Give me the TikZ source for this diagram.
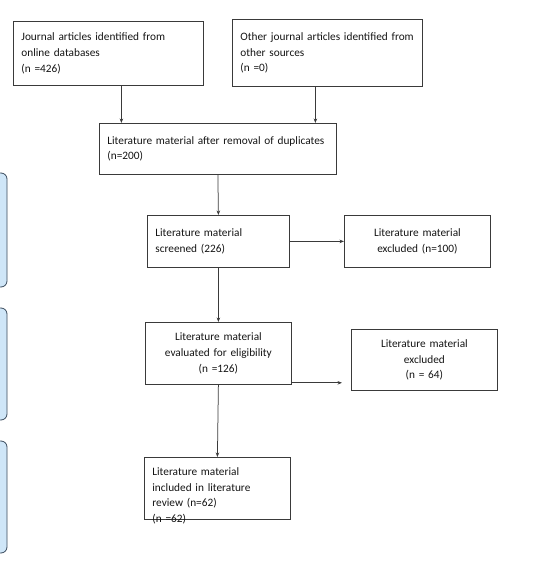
\documentclass[tikz,border=0pt]{standalone}
\usepackage{fontspec}
\setmainfont{Carlito}
\usepackage{xcolor}
\usetikzlibrary{arrows.meta}
\definecolor{boxline}{HTML}{3A3A3A}
\definecolor{txt}{HTML}{141414}
\definecolor{sidefill}{HTML}{CFE6F8}
\definecolor{sideline}{HTML}{3A4A5C}
\tikzset{
  box/.style={draw=boxline, line width=0.8pt, inner xsep=8pt, inner ysep=4pt,
    anchor=north west, text=txt, font=\fontsize{11.3}{15.8}\selectfont},
  arr/.style={draw=boxline, line width=0.75pt, -{Stealth[length=4.5pt,width=3.5pt]}},
  side/.style={draw=sideline, fill=sidefill, line width=0.8pt, rounded corners=6pt}
}

\begin{document}
\begin{tikzpicture}[x=1pt,y=-1pt]
  \useasboundingbox (0,0) rectangle (548,567);
  % Draw side panels (cut off at the left edge)
  \foreach \top/\bot in {173/287, 308/420, 441/553} {
    \draw[side] (-30,\top) rectangle (7,\bot);
  }
  % Draw boxes
  \node[box, minimum width=190pt, minimum height=64pt, text width=174pt, align=left]
    (online) at (13,21) {Journal articles identified from\\online databases\\(n =426)};
  \node[box, minimum width=190pt, minimum height=67pt, text width=174pt, align=left]
    (other) at (232,19) {Other journal articles identified from\\other sources\\(n =0)};
  \node[box, minimum width=237pt, minimum height=51pt, text width=221pt, align=left]
    (dedup) at (99,123) {Literature material after removal of duplicates\\(n=200)};
  \node[box, minimum width=142pt, minimum height=52pt, text width=126pt, align=left]
    (screen) at (147,215) {Literature material\\screened (226)};
  \node[box, minimum width=146pt, minimum height=52pt, text width=130pt, align=center]
    (excl1) at (344,215) {Literature material\\excluded (n=100)};
  \node[box, minimum width=146pt, minimum height=62pt, text width=130pt, align=center]
    (elig) at (145,322) {Literature material\\evaluated for eligibility\\(n =126)};
  \node[box, minimum width=146pt, minimum height=61pt, text width=130pt, align=center]
    (excl2) at (351,329) {Literature material\\excluded\\(n = 64)};
  \node[box, minimum width=146pt, minimum height=62pt, text width=130pt] (incl) at (144,457) {};
  \node[box, draw=none, inner sep=0pt, text width=130pt, align=left]
    (incltext) at ([shift={(8pt,-10pt)}]incl.north west)
    {Literature material\\included in literature\\review (n=62)\\(n =62)};
  % Draw arrows
  \draw[arr] ([xshift=13pt]online.south) -- ([xshift=13pt]online.south |- dedup.north);
  \draw[arr] ([xshift=-12pt]other.south) -- ([xshift=-12pt]other.south |- dedup.north);
  \draw[arr] (dedup.south) -- (screen.north);
  \draw[arr] (screen.east) -- (excl1.west);
  \draw[arr] (screen.south) -- (elig.north);
  \coordinate (eligout) at ([yshift=2pt]elig.south east);
  \draw[arr] (eligout) -- ([xshift=-9pt]excl2.west |- eligout);
  \draw[arr] (elig.south) -- (incl.north);
\end{tikzpicture}
\end{document}
